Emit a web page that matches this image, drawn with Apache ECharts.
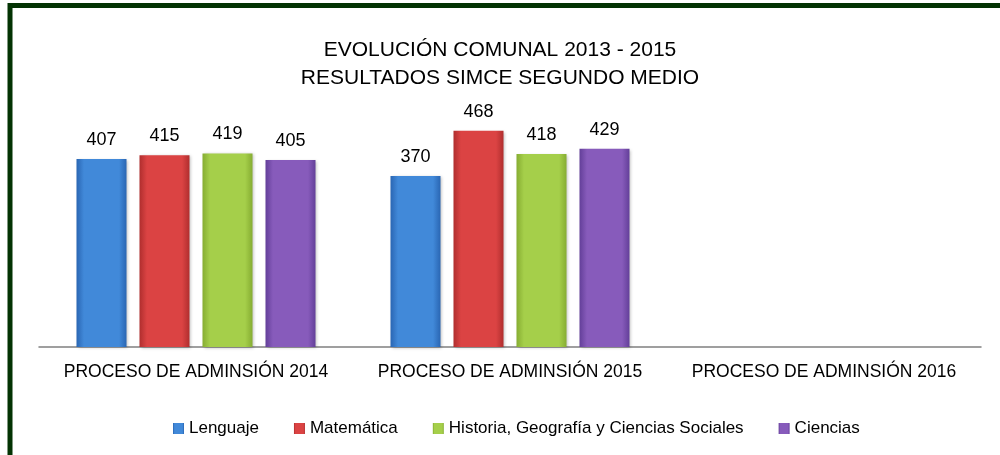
<!DOCTYPE html>
<html>
<head>
<meta charset="utf-8">
<script src="https://cdn.jsdelivr.net/npm/echarts@6/dist/echarts.min.js"></script>
<style>
  html, body { margin: 0; padding: 0; background: #fff; }
  #chart { width: 1000px; height: 455px; }
</style>
</head>
<body>
<div id="chart"></div>
<script>
const categories = ['PROCESO DE ADMINSIÓN 2014', 'PROCESO DE ADMINSIÓN 2015', 'PROCESO DE ADMINSIÓN 2016'];
const seriesNames = ['Lenguaje', 'Matemática', 'Historia, Geografía y Ciencias Sociales', 'Ciencias'];
const lenguaje = [407, 370, null];
const matematica = [415, 468, null];
const historia = [419, 418, null];
const ciencias = [405, 429, null];

const font = '"Liberation Sans Narrow", "Arial Narrow", "Liberation Sans", sans-serif';
const colors = [
    ['#2a66b3', '#4189d9', '#2a66b3'],
    ['#b02e2e', '#db4343', '#b02e2e'],
    ['#86ad32', '#a5cf4a', '#86ad32'],
    ['#633f99', '#875bbb', '#633f99']
];

function grad(c) {
    return new echarts.graphic.LinearGradient(0, 0, 1, 0, [
        { offset: 0, color: c[0] },
        { offset: 0.15, color: c[1] },
        { offset: 0.85, color: c[1] },
        { offset: 1, color: c[2] }
    ]);
}

const chart = echarts.init(document.getElementById('chart'));
const data = [lenguaje, matematica, historia, ciencias];

chart.setOption({
    animation: false,
    title: {
        text: 'EVOLUCIÓN COMUNAL 2013 - 2015\nRESULTADOS SIMCE SEGUNDO MEDIO',
        left: 'center',
        top: 31,
        textStyle: { fontFamily: font, fontSize: 21, fontWeight: 'normal', color: '#000', lineHeight: 28 }
    },
    legend: {
        data: seriesNames,
        top: 415,
        left: 168,
        icon: 'rect',
        itemWidth: 11,
        itemHeight: 11,
        itemGap: 35,
        textStyle: { fontFamily: font, fontSize: 17, color: '#000' }
    },
    grid: { left: 39, right: 19, top: 116, bottom: 108 },
    xAxis: {
        type: 'category',
        data: categories,
        axisLine: { lineStyle: { color: '#808080', width: 1.5 } },
        axisTick: { show: false },
        axisLabel: { interval: 0, fontFamily: font, fontSize: 17.5, color: '#000', margin: 16 }
    },
    yAxis: {
        type: 'value',
        min: 0,
        max: 500,
        show: false
    },
    graphic: [{
        type: 'rect',
        shape: { x: 10, y: 5.5, width: 1000, height: 500 },
        style: { fill: 'none', stroke: '#033303', lineWidth: 5 },
        silent: true
    }],
    series: seriesNames.map((name, i) => ({
        name: name,
        type: 'bar',
        data: data[i],
        barWidth: 50,
        barGap: '26%',
        itemStyle: {
            color: grad(colors[i]),
            shadowColor: 'rgba(0,0,0,0.25)',
            shadowBlur: 3,
            shadowOffsetX: 1,
            shadowOffsetY: 1
        },
        label: {
            show: true,
            position: 'top',
            distance: 10,
            fontFamily: font,
            fontSize: 18,
            color: '#000'
        }
    }))
});
</script>
</body>
</html>
